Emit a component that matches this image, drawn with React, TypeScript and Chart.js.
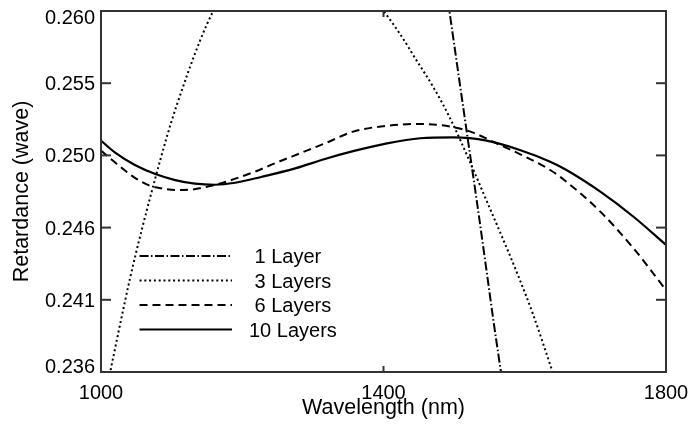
import React, { useEffect, useRef } from 'react';
import { Chart, registerables } from 'chart.js';

Chart.register(...registerables);

// ---- data ----
const X_MIN = 1000;
const X_MAX = 1800;
const X_TICKS = [1000, 1400, 1800];
const Y_MIN = 0.236;
const Y_MAX = 0.26;
const Y_TICKS = [0.236, 0.2408, 0.2456, 0.2504, 0.2552, 0.26];
const Y_TICK_LABELS = ['0.236', '0.241', '0.246', '0.250', '0.255', '0.260'];
const SERIES_LABELS = ['1 Layer', '3 Layers', '6 Layers', '10 Layers'];
const X_TITLE = 'Wavelength (nm)';
const Y_TITLE = 'Retardance (wave)';

// 1 Layer
const WL_1 = [1488, 1493, 1504, 1519, 1532, 1546, 1556, 1566, 1572];
const RET_1 = [0.2617, 0.2601, 0.2565, 0.2516, 0.2474, 0.2427, 0.2393, 0.2361, 0.2342];

// 3 Layers
const WL_3 = [1000, 1013, 1041, 1058, 1093, 1107, 1140, 1159, 1190, 1230, 1280, 1330, 1370, 1400, 1423, 1447, 1471, 1494, 1523, 1544, 1565, 1589, 1612, 1638, 1650];
const RET_3 = [0.233, 0.236, 0.2422, 0.2455, 0.2516, 0.2537, 0.258, 0.26, 0.2625, 0.2638, 0.2643, 0.2635, 0.2617, 0.26, 0.2585, 0.2567, 0.2549, 0.2529, 0.2499, 0.2476, 0.2453, 0.2426, 0.2398, 0.2362, 0.2345];

// 6 Layers
const WL_6 = [1000, 1022, 1047, 1068, 1085, 1105, 1126, 1143, 1161, 1218, 1246, 1284, 1317, 1357, 1405, 1452, 1490, 1523, 1560, 1593, 1636, 1659, 1707, 1754, 1800];
const RET_6 = [0.25072, 0.24985, 0.24894, 0.24841, 0.24821, 0.2481, 0.24812, 0.24825, 0.24843, 0.24932, 0.24987, 0.25058, 0.2512, 0.25198, 0.25237, 0.25249, 0.25235, 0.25198, 0.2512, 0.25049, 0.24943, 0.24865, 0.24666, 0.24422, 0.24145];

// 10 Layers
const WL_10 = [1000, 1020, 1048, 1077, 1105, 1133, 1161, 1190, 1228, 1275, 1317, 1357, 1405, 1452, 1499, 1546, 1593, 1636, 1659, 1707, 1754, 1800];
const RET_10 = [0.25138, 0.25058, 0.24976, 0.24916, 0.24876, 0.24852, 0.24845, 0.24858, 0.24898, 0.24954, 0.25016, 0.25068, 0.2512, 0.25154, 0.2516, 0.25138, 0.25076, 0.24998, 0.24943, 0.24799, 0.24632, 0.24445];

const FAMILY = '"Liberation Sans", Arial, Helvetica, sans-serif';
const FONT = `20px ${FAMILY}`;
const TITLE_FONT = `21.5px ${FAMILY}`;

const toPoints = (xs: number[], ys: number[]) => xs.map((x, i) => ({ x, y: ys[i] }));

const framePlugin = {
  id: 'frameAndText',
  afterDraw(chart: any) {
    const { ctx, chartArea: a, scales } = chart;
    const xs = scales.x;
    const ys = scales.y;
    ctx.save();
    ctx.strokeStyle = '#333';
    ctx.lineWidth = 2;
    ctx.setLineDash([]);
    ctx.strokeRect(a.left, a.top, a.right - a.left, a.bottom - a.top);
    const seg = (x1: number, y1: number, x2: number, y2: number) => {
      ctx.beginPath();
      ctx.moveTo(x1, y1);
      ctx.lineTo(x2, y2);
      ctx.stroke();
    };
    ys.ticks.forEach((t: any) => {
      const py = ys.getPixelForValue(t.value);
      seg(a.left, py, a.left + 10, py);
      seg(a.right - 10, py, a.right, py);
    });
    xs.ticks.forEach((t: any) => {
      const px = xs.getPixelForValue(t.value);
      seg(px, a.bottom, px, a.bottom - 6);
      seg(px, a.top, px, a.top + 6);
    });

    ctx.fillStyle = '#000';
    ctx.font = FONT;
    ctx.textBaseline = 'alphabetic';
    ctx.textAlign = 'right';
    ys.ticks.forEach((t: any, i: number) => {
      let py = ys.getPixelForValue(t.value);
      py = Math.max(a.top + 6, Math.min(a.bottom - 6, py));
      ctx.fillText(Y_TICK_LABELS[i] ?? t.value.toFixed(3), a.left - 6, py + 7);
    });
    ctx.textAlign = 'center';
    xs.ticks.forEach((t: any) => {
      const px = xs.getPixelForValue(t.value);
      ctx.fillText(String(t.value), px, a.bottom + 27);
    });
    ctx.font = TITLE_FONT;
    ctx.fillText(X_TITLE, (a.left + a.right) / 2, a.bottom + 42);

    ctx.save();
    ctx.translate(28, (a.top + a.bottom) / 2);
    ctx.rotate(-Math.PI / 2);
    ctx.fillText(Y_TITLE, 0, 0);
    ctx.restore();

    // legend
    ctx.font = FONT;
    ctx.textAlign = 'left';
    const spaceW = ctx.measureText(' ').width;
    chart.data.datasets.forEach((ds: any, i: number) => {
      const ry = a.top + 245 + i * 24.5;
      ctx.strokeStyle = ds.borderColor;
      ctx.lineWidth = ds.borderWidth;
      ctx.setLineDash(ds.borderDash || []);
      seg(a.left + 38.5, ry, a.left + 131, ry);
      ctx.setLineDash([]);
      const lbl = ds.label as string;
      const pad = /^\d /.test(lbl) ? spaceW : 0;
      ctx.fillText(lbl, a.left + 148 + pad, ry + 7);
    });
    ctx.restore();
  },
};

export default function App() {
  const ref = useRef<HTMLCanvasElement | null>(null);
  useEffect(() => {
    if (!ref.current) return;
    const common = {
      borderColor: '#000',
      pointRadius: 0,
      fill: false,
      cubicInterpolationMode: 'monotone' as const,
    };
    const chart = new Chart(ref.current, {
      type: 'line',
      data: {
        datasets: [
          { ...common, label: SERIES_LABELS[0], data: toPoints(WL_1, RET_1), borderWidth: 2, borderDash: [9, 2.5, 1.5, 2.5] },
          { ...common, label: SERIES_LABELS[1], data: toPoints(WL_3, RET_3), borderWidth: 2, borderDash: [2, 2.8] },
          { ...common, label: SERIES_LABELS[2], data: toPoints(WL_6, RET_6), borderWidth: 2, borderDash: [8, 5] },
          { ...common, label: SERIES_LABELS[3], data: toPoints(WL_10, RET_10), borderWidth: 2.2, borderDash: [] },
        ],
      },
      options: {
        responsive: false,
        animation: false,
        layout: { padding: { left: 0, top: 11, right: 26, bottom: 0 } },
        plugins: { legend: { display: false }, tooltip: { enabled: false } },
        scales: {
          x: {
            type: 'linear',
            min: X_MIN,
            max: X_MAX,
            grid: { display: false, drawTicks: false },
            border: { display: false },
            ticks: { display: false },
            afterBuildTicks: (s: any) => { s.ticks = X_TICKS.map((v) => ({ value: v })); },
            afterFit: (s: any) => { s.height = 54; },
          },
          y: {
            type: 'linear',
            min: Y_MIN,
            max: Y_MAX,
            grid: { display: false, drawTicks: false },
            border: { display: false },
            ticks: { display: false },
            afterBuildTicks: (s: any) => { s.ticks = Y_TICKS.map((v) => ({ value: v })); },
            afterFit: (s: any) => { s.width = 101; },
          },
        },
      },
      plugins: [framePlugin],
    });
    return () => chart.destroy();
  }, []);
  return (
    <div style={{ position: 'absolute', left: 0, top: 0, width: 692, height: 426, background: '#fff' }}>
      <canvas ref={ref} width={692} height={426} />
    </div>
  );
}
